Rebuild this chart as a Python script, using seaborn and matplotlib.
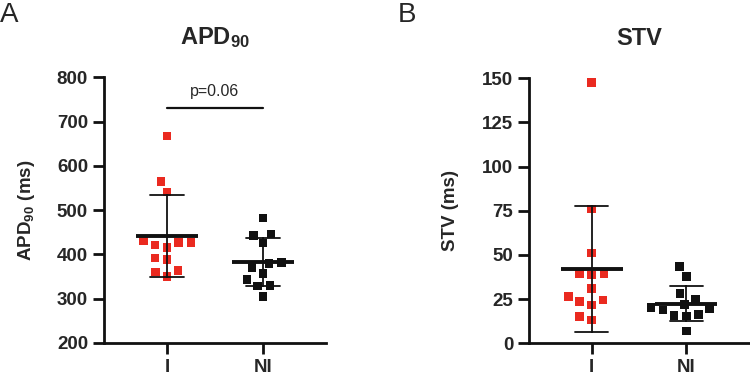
import matplotlib
matplotlib.use("Agg")
import matplotlib.pyplot as plt
import seaborn as sns
import pandas as pd

# ---- data ----
groups = ["I", "NI"]
apd_I = [667, 564, 541, 432, 427, 427, 421, 416, 392, 388, 363, 360, 350]
apd_NI = [482, 446, 443, 426, 382, 380, 370, 357, 343, 330, 329, 305]
stv_I = [147.5, 76, 51, 39.6, 39.2, 38.7, 31, 26.4, 24.5, 23.5, 21.7, 15, 13.2]
stv_NI = [43.4, 37.7, 28.3, 25.1, 22.0, 20.4, 19.4, 18.8, 16.4, 15.6, 15.4, 7.0]
apd_ticks = [200, 300, 400, 500, 600, 700, 800]
stv_ticks = [0, 25, 50, 75, 100, 125, 150]
p_text = "p=0.06"
p_bar_y = 731

RED = "#EA2A20"
BLACK = "#111111"
LAYOUT_SIZE = 8.5   # spacing used by the swarm layout (GraphPad-like spread)
MARKER_SIZE = 6.2   # drawn square size

sns.set_style("ticks")
plt.rcParams["font.family"] = ["Liberation Sans", "DejaVu Sans"]
plt.rcParams["mathtext.fontset"] = "custom"
plt.rcParams["mathtext.bf"] = "Liberation Sans:bold"
plt.rcParams["mathtext.rm"] = "Liberation Sans"

df_apd = pd.DataFrame({"group": ["I"] * len(apd_I) + ["NI"] * len(apd_NI),
                       "value": apd_I + apd_NI})
df_stv = pd.DataFrame({"group": ["I"] * len(stv_I) + ["NI"] * len(stv_NI),
                       "value": stv_I + stv_NI})

fig = plt.figure(figsize=(7.5, 3.77), dpi=100)
axA = fig.add_axes([0.1387, 0.0902, 0.296, 0.705])
axB = fig.add_axes([0.7057, 0.0894, 0.2925, 0.703])

palette = {"I": RED, "NI": BLACK}
swarm_cols = []


def draw(ax, df, ticks, ylabel, title, labelpad):
    n0 = len(ax.collections)
    sns.swarmplot(data=df, x="group", y="value", hue="group", order=groups,
                  palette=palette, marker="s", size=LAYOUT_SIZE, linewidth=0,
                  legend=False, ax=ax, zorder=2, clip_on=False)
    swarm_cols.extend(ax.collections[n0:])
    sns.pointplot(data=df, x="group", y="value", order=groups,
                  errorbar="sd", capsize=0.35, color=BLACK,
                  linestyle="none", marker="_", markersize=45,
                  markeredgewidth=2.8, err_kws={"linewidth": 1.3},
                  ax=ax, zorder=3)
    ax.set_ylim(ticks[0], ticks[-1])
    ax.set_yticks(ticks)
    ax.set_xlim(-0.66, 1.66)
    ax.set_xlabel("")
    ax.set_ylabel(ylabel, fontsize=13.5, fontweight="bold", labelpad=labelpad)
    for s in ["top", "right"]:
        ax.spines[s].set_visible(False)
    for s in ["left", "bottom"]:
        ax.spines[s].set_linewidth(2.0)
        ax.spines[s].set_color(BLACK)
    ax.tick_params(axis="both", length=8, width=2.0, color=BLACK,
                   labelsize=13.5, pad=3.5)
    for lab in ax.get_yticklabels() + ax.get_xticklabels():
        lab.set_fontweight("bold")
    ax.text(0.5, 1.125, title, transform=ax.transAxes, ha="center",
            va="baseline", fontsize=17, fontweight="bold")


draw(axA, df_apd, apd_ticks, r"$\mathbf{APD_{90}\ (ms)}$", r"$\mathbf{APD_{90}}$", 14)
draw(axB, df_stv, stv_ticks, "STV (ms)", "STV", 17)

# significance annotation
axA.plot([0, 1], [p_bar_y, p_bar_y], color=BLACK, linewidth=1.6, clip_on=False)
axA.text(0.5, p_bar_y + 20, p_text, ha="center", va="bottom", fontsize=11.5)

fig.text(0.0, 0.995, "A", ha="left", va="top", fontsize=20)
fig.text(0.531, 0.995, "B", ha="left", va="top", fontsize=20)

# let seaborn lay out the swarms with the wider spacing, then freeze
# those positions and draw the squares at their true size
fig.canvas.draw()
for c in swarm_cols:
    if "draw" in c.__dict__:
        del c.draw
    c.set_sizes([MARKER_SIZE ** 2])

fig.savefig("out.png", dpi=100)
